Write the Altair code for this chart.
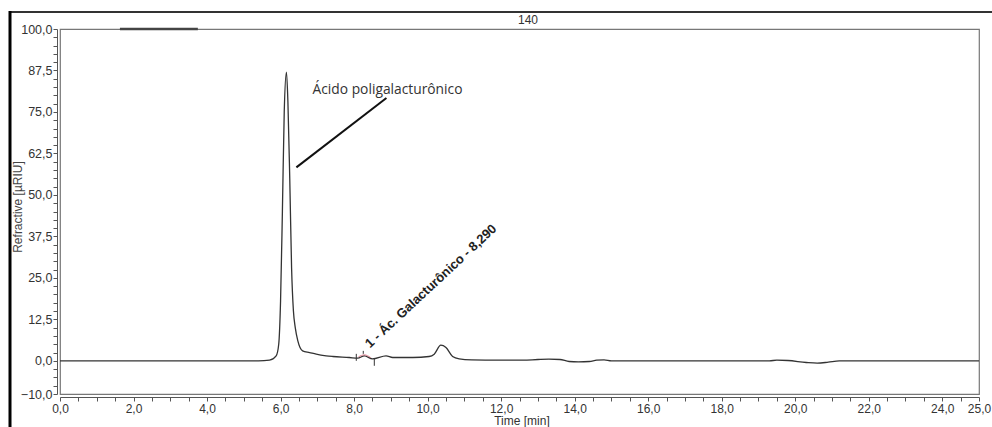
import altair as alt
import pandas as pd

# Chromatogram trace (time in min, signal in µRIU)
time = [0, 5.4, 5.7, 5.88, 5.95, 6.0, 6.05, 6.1, 6.16, 6.2, 6.25, 6.3, 6.35, 6.4, 6.47,
        6.6, 6.79, 6.97, 7.24, 7.42, 7.87, 8.1, 8.28, 8.5, 8.87, 9.05, 9.6, 10.04, 10.18,
        10.36, 10.5, 10.68, 10.86, 11.2, 11.94, 12.6, 13.0, 13.3, 13.6, 13.85, 14.1, 14.4,
        14.6, 14.8, 15.0, 19.3, 19.5, 19.8, 20.3, 20.6, 20.9, 21.2, 25]
signal = [0, 0, 0.2, 1.5, 5, 18, 45, 75, 87, 78, 55, 28, 15, 10, 6,
          3, 2.5, 2.0, 1.5, 1.3, 1.0, 0.8, 1.5, 0.6, 1.5, 1.0, 1.0, 1.3, 2.0,
          4.7, 4.0, 1.3, 0.6, 0.3, 0.2, 0.2, 0.4, 0.5, 0.4, -0.2, -0.3, -0.2,
          0.2, 0.3, 0.0, 0.0, 0.2, 0.1, -0.5, -0.7, -0.4, 0, 0]

x_ticks = [i * 0.5 for i in range(51)]
y_ticks = [-10 + i * 2.5 for i in range(45)]

title_text = "140"
y_title = "Refractive [µRIU]"
x_title = "Time [min]"
annot_text = "Ácido poligalacturônico"
annot_pos = [6.87, 81.7]
leader = [6.43, 58.3, 8.88, 79.2]
peak_label = "1 - Ác. Galacturônico - 8,290"
peak_label_pos = [8.36, 4.6]
integ_ticks_t = [8.06, 8.25, 8.55]
integ_ticks_y1 = [0.0, 2.1, 0.6]
integ_ticks_y2 = [2.1, 3.0, -1.5]
arc_t = [8.12, 8.28, 8.45]
arc_v = [1.2, 1.8, 1.0]
top_seg = [1.63, 3.75, 100]

df = pd.DataFrame({"t": time, "v": signal})

xs = alt.Scale(domain=[0, 25], nice=False, zero=False)
ys = alt.Scale(domain=[-10, 100], nice=False, zero=False)

fmt = "replace(format(datum.value, '.1f'), '.', ',')"
x_axis = alt.Axis(values=x_ticks, tickCount=500, title=None, grid=False, offset=3,
                  labelExpr=f"(datum.value % 2 == 0 || datum.value == 25) ? {fmt} : ''",
                  labelFont="Liberation Sans", labelFontSize=12, labelColor="#333",
                  labelOverlap=False, labelFlush=False, labelPadding=2,
                  domainColor="#555", tickColor="#555", tickSize=4)
y_axis = alt.Axis(values=y_ticks, tickCount=500, title=None, grid=False, offset=3,
                  labelExpr=f"(datum.value % 12.5 == 0 || datum.value == -10) ? {fmt} : ''",
                  labelFont="Liberation Sans", labelFontSize=12.5, labelColor="#333",
                  labelOverlap=False, labelFlush=False, labelPadding=1,
                  domainColor="#555", tickColor="#555", tickSize=4)

trace = alt.Chart(df).mark_line(color="#333", strokeWidth=1.3, interpolate="monotone").encode(
    x=alt.X("t:Q", scale=xs, axis=x_axis),
    y=alt.Y("v:Q", scale=ys, axis=y_axis),
)

seg = alt.Chart(pd.DataFrame({"a": [top_seg[0]], "b": [top_seg[1]], "y": [top_seg[2]]})).mark_rule(
    color="#444", strokeWidth=2.5).encode(x="a:Q", x2="b:Q", y="y:Q")

lead = alt.Chart(pd.DataFrame({"x1": [leader[0]], "y1": [leader[1]], "x2": [leader[2]], "y2": [leader[3]]})).mark_rule(
    color="#111", strokeWidth=2).encode(x="x1:Q", y="y1:Q", x2="x2:Q", y2="y2:Q")

annot = alt.Chart(pd.DataFrame({"x": [annot_pos[0]], "y": [annot_pos[1]], "s": [annot_text]})).mark_text(
    align="left", baseline="middle", font="Open Sans", fontSize=13.8, color="#333").encode(
    x="x:Q", y="y:Q", text="s:N")

plabel = alt.Chart(pd.DataFrame({"x": [peak_label_pos[0]], "y": [peak_label_pos[1]], "s": [peak_label]})).mark_text(
    align="left", baseline="middle", font="Liberation Sans", fontSize=13, fontWeight="bold",
    color="#222", angle=317).encode(x="x:Q", y="y:Q", text="s:N")

iticks = alt.Chart(pd.DataFrame({"t": integ_ticks_t, "a": integ_ticks_y1, "b": integ_ticks_y2})).mark_rule(
    color="#333", strokeWidth=1).encode(x="t:Q", y="a:Q", y2="b:Q")

arc = alt.Chart(pd.DataFrame({"t": arc_t, "v": arc_v})).mark_line(
    color="#e0808f", strokeWidth=1, interpolate="monotone").encode(x="t:Q", y="v:Q")

frame_top = alt.Chart().mark_rule(color="#333", strokeWidth=2).encode(
    x=alt.value(-50), x2=alt.value(932), y=alt.value(-17), y2=alt.value(-17))
frame_left = alt.Chart().mark_rule(color="#000", strokeWidth=3).encode(
    x=alt.value(-50), x2=alt.value(-50), y=alt.value(-18), y2=alt.value(398))

ttl = alt.Chart().mark_text(fontSize=12, font="Liberation Sans", color="#333", baseline="middle").encode(
    x=alt.value(468), y=alt.value(-9), text=alt.value(title_text))
ytl = alt.Chart().mark_text(fontSize=12, font="Liberation Sans", color="#444", baseline="middle",
                            angle=270).encode(
    x=alt.value(-42), y=alt.value(178), text=alt.value(y_title))
xtl = alt.Chart().mark_text(fontSize=12, font="Liberation Sans", color="#333", baseline="middle").encode(
    x=alt.value(462), y=alt.value(392), text=alt.value(x_title))

chart = alt.layer(trace, seg, lead, annot, plabel, iticks, arc, frame_top, frame_left, ttl, ytl, xtl).properties(
    width=919, height=365,
    padding={"left": 60, "top": 29, "right": 13, "bottom": 33},
    autosize=alt.AutoSizeParams(type="none"),
    background="white",
).configure_view(stroke="#777", strokeWidth=1.2)

chart.save("out.html", embed_options={"renderer": "svg", "actions": False})
